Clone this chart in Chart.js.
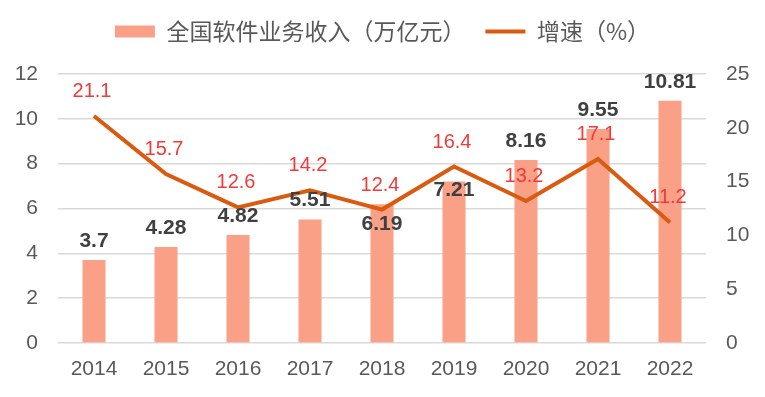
<!DOCTYPE html>
<html>
<head>
<meta charset="utf-8">
<script src="https://cdn.jsdelivr.net/npm/chart.js@4"></script>
<style>
  html, body { margin: 0; padding: 0; background: #fff; overflow: hidden; }
  canvas { display: block; }
</style>
</head>
<body>
<canvas id="SoftChart" width="765" height="397"></canvas>
<script>
// 软件业务收入
var years = ['2014', '2015', '2016', '2017', '2018', '2019', '2020', '2021', '2022'];
var revenue = [3.7, 4.28, 4.82, 5.51, 6.19, 7.21, 8.16, 9.55, 10.81];
var growth = [21.1, 15.7, 12.6, 14.2, 12.4, 16.4, 13.2, 17.1, 11.2];
var leftTicks = [0, 2, 4, 6, 8, 10, 12];
var rightTicks = [0, 5, 10, 15, 20, 25];

var fontFamily = '"Liberation Sans", Arial, "Noto Sans CJK SC", sans-serif';

// 数据标签 (2018, 2019 的柱标签放在柱内, 避开折线)
var barLabelInside = { 4: 26, 5: 15 };
var valueLabels = {
  id: 'valueLabels',
  beforeInit: function(chart) {
    var fit = chart.legend.fit;
    chart.legend.fit = function() {
      fit.call(this);
      this.height = 74;
    };
  },
  afterDatasetsDraw: function(chart) {
    var c = chart.ctx;
    c.save();
    c.textAlign = 'center';
    c.textBaseline = 'alphabetic';
    chart.getDatasetMeta(0).data.forEach(function(bar, i) {
      c.font = 'bold 21px ' + fontFamily;
      c.fillStyle = '#404040';
      var dy = barLabelInside[i] !== undefined ? barLabelInside[i] : -13;
      c.fillText(String(revenue[i]), bar.x, bar.y + dy);
    });
    chart.getDatasetMeta(1).data.forEach(function(pt, i) {
      c.font = '20px ' + fontFamily;
      c.fillStyle = '#F23A3A';
      c.fillText(growth[i].toFixed(1), pt.x - 2, pt.y - 19);
    });
    c.restore();
  }
};

var ctx = document.getElementById('SoftChart').getContext('2d');
var myChart = new Chart(ctx, {
  type: 'bar',
  data: {
    labels: years,
    datasets: [
      {
        type: 'bar',
        label: '全国软件业务收入（万亿元）',
        data: revenue,
        backgroundColor: '#F9A086',
        borderWidth: 0,
        barPercentage: 0.64,
        categoryPercentage: 0.5,
        yAxisID: 'y',
        order: 2
      },
      {
        type: 'line',
        label: '增速（%）',
        data: growth,
        borderColor: '#DA5A10',
        backgroundColor: '#DA5A10',
        borderWidth: 4,
        pointRadius: 0,
        tension: 0,
        yAxisID: 'y1',
        order: 1
      }
    ]
  },
  plugins: [valueLabels],
  options: {
    responsive: false,
    animation: false,
    layout: { padding: 0 },
    plugins: {
      tooltip: { enabled: false },
      legend: {
        position: 'top',
        labels: {
          color: '#595959',
          font: { size: 23, family: '"Noto Sans CJK SC", sans-serif' },
          usePointStyle: true,
          pointStyleWidth: 40,
          boxHeight: 12,
          padding: 20,
          generateLabels: function(chart) {
            return chart.data.datasets.map(function(ds, i) {
              return {
                text: ds.label,
                fillStyle: ds.backgroundColor,
                strokeStyle: ds.type === 'line' ? ds.borderColor : ds.backgroundColor,
                lineWidth: ds.type === 'line' ? 4 : 0,
                pointStyle: ds.type === 'line' ? 'line' : 'rect',
                fontColor: '#595959',
                datasetIndex: i
              };
            });
          }
        }
      }
    },
    scales: {
      x: {
        afterFit: function(axis) { axis.height = 54; },
        grid: { display: false, drawTicks: false },
        border: { display: false },
        ticks: { color: '#595959', font: { size: 21, family: fontFamily }, padding: 14 }
      },
      y: {
        position: 'left',
        min: 0,
        max: 12,
        afterFit: function(axis) { axis.width = 58; },
        afterBuildTicks: function(axis) { axis.ticks = leftTicks.map(function(v) { return { value: v }; }); },
        grid: { color: '#D9D9D9', lineWidth: 1.5, drawTicks: false },
        border: { display: false },
        ticks: { color: '#595959', font: { size: 21, family: fontFamily }, padding: 20 }
      },
      y1: {
        position: 'right',
        min: 0,
        max: 25,
        afterFit: function(axis) { axis.width = 59; },
        afterBuildTicks: function(axis) { axis.ticks = rightTicks.map(function(v) { return { value: v }; }); },
        grid: { display: false, drawTicks: false },
        border: { display: false },
        ticks: { color: '#595959', font: { size: 21, family: fontFamily }, padding: 20 }
      }
    }
  }
});
</script>
</body>
</html>
